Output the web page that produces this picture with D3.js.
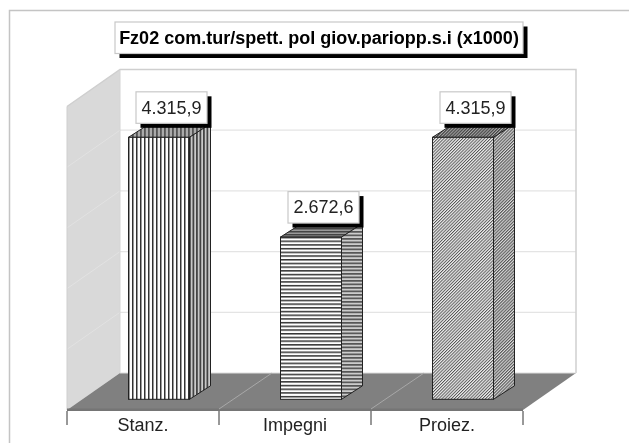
<!DOCTYPE html>
<html><head><meta charset="utf-8">
<script src="https://cdn.jsdelivr.net/npm/d3@7"></script>
<style>html,body{margin:0;padding:0;background:#fff}svg{display:block;filter:blur(0.3px)}</style>
</head><body><svg id="c" width="629" height="443"></svg>
<script>
const titleText = "Fz02 com.tur/spett. pol giov.pariopp.s.i (x1000)";
const categories = ["Stanz.", "Impegni", "Proiez."];
const values = [4315.9, 2672.6, 4315.9];
const valueLabels = ["4.315,9", "2.672,6", "4.315,9"];
const gridTicks = [0, 1000, 2000, 3000, 4000, 5000];

const font = "'Liberation Sans', Arial, sans-serif";
const svg = d3.select("#c");
const x0 = 67, x1 = 523, yFront = 410, yBackFloor = 373, yTop = 69.5, dx = 53, dy = 37;
const x = d3.scaleBand().domain(categories).range([x0, x1]).paddingInner(0).paddingOuter(0);
const y = d3.scaleLinear().domain([0, 5000]).range([yBackFloor, yTop]);
const bw = 61, bdx = 21, bdy = 13.5, barBase = 399.3, barOffset = 61.5;
const barH = d3.scaleLinear().domain([0, 5000]).range([0, yBackFloor - yTop]);

// patterns
const defs = svg.append("defs");
function pat(id, w, h, bg, draw, tr) {
  const p = defs.append("pattern").attr("id", id).attr("patternUnits", "userSpaceOnUse").attr("width", w).attr("height", h);
  if (tr) p.attr("patternTransform", tr);
  p.append("rect").attr("width", w).attr("height", h).attr("fill", bg);
  draw(p);
}
const rect = (p, a) => p.append("rect").attr("x", a[0]).attr("y", a[1]).attr("width", a[2]).attr("height", a[3]).attr("fill", a[4]);
pat("v", 4, 4, "#fff", p => rect(p, [0, 0, 1.5, 4, "#333"]));
pat("vs", 3.5, 4, "#ccc", p => rect(p, [0, 0, 1.8, 4, "#444"]));
pat("vt", 4, 4, "#aaa", p => rect(p, [0, 0, 1.8, 4, "#555"]));
pat("h", 4, 3.7, "#fff", p => rect(p, [0, 0, 4, 1.5, "#333"]));
pat("hs", 4, 3.5, "#ccc", p => rect(p, [0, 0, 4, 1.7, "#555"]));
pat("ht", 4, 3, "#999", p => rect(p, [0, 0, 4, 1.5, "#444"]));
pat("d", 2.2, 2.2, "#eee", p => rect(p, [0, 0, 0.95, 2.2, "#555"]), "rotate(45)");
pat("ds", 2.2, 2.2, "#ddd", p => rect(p, [0, 0, 1.1, 2.2, "#555"]), "rotate(45)");
pat("dt", 2.2, 2.2, "#aaa", p => rect(p, [0, 0, 1.2, 2.2, "#444"]), "rotate(45)");
const fills = [["v","vs","vt"],["h","hs","ht"],["d","ds","dt"]];

const poly = pts => pts.map(p => p.join(",")).join(" ");

// outer frame
svg.append("path").attr("d", "M9.5,443V10.5H629").attr("fill", "none").attr("stroke", "#c4c4c4").attr("stroke-width", 1.5);

// left wall
svg.append("polygon").attr("points", poly([[x0, yFront], [x0 + dx, yBackFloor], [x0 + dx, yTop], [x0, yTop + dy]])).attr("fill", "#d9d9d9");
// back wall
svg.append("rect").attr("x", x0 + dx).attr("y", yTop).attr("width", x1 + dx - x0 - dx).attr("height", yBackFloor - yTop).attr("fill", "#fff");
// grid lines
const g = svg.append("g");
gridTicks.slice(1, -1).forEach(t => {
  g.append("line").attr("x1", x0 + dx).attr("x2", x1 + dx).attr("y1", y(t)).attr("y2", y(t)).attr("stroke", "#e4e4e4").attr("stroke-width", 1.2);
  g.append("line").attr("x1", x0).attr("x2", x0 + dx).attr("y1", y(t) + dy).attr("y2", y(t)).attr("stroke", "#e2e2e2").attr("stroke-width", 1);
});
// wall borders
svg.append("path").attr("d", `M${x0},${yTop + dy}L${x0 + dx},${yTop}H${x1 + dx}V${yBackFloor}`).attr("fill", "none").attr("stroke", "#cfcfcf").attr("stroke-width", 1.5);
svg.append("line").attr("x1", x0 + dx).attr("x2", x0 + dx).attr("y1", yTop).attr("y2", yBackFloor).attr("stroke", "#d4d4d4").attr("stroke-width", 1);
svg.append("line").attr("x1", x0).attr("x2", x0).attr("y1", yTop + dy).attr("y2", yFront).attr("stroke", "#cfcfcf").attr("stroke-width", 1);

// floor
svg.append("polygon").attr("points", poly([[x0, yFront], [x1, yFront], [x1 + dx, yBackFloor], [x0 + dx, yBackFloor]])).attr("fill", "#808080");
svg.append("line").attr("x1", x0 + dx).attr("x2", x1 + dx).attr("y1", yBackFloor).attr("y2", yBackFloor).attr("stroke", "#dcdcdc").attr("stroke-width", 1);
svg.append("rect").attr("x", x0).attr("y", yFront - 1.5).attr("width", x1 - x0).attr("height", 2.5).attr("fill", "#757575");
categories.slice(1).forEach(c => {
  svg.append("line").attr("x1", x(c)).attr("x2", x(c) + dx).attr("y1", yFront - 1).attr("y2", yBackFloor).attr("stroke", "#a8a8a8").attr("stroke-width", 1);
});

// category axis
const ax = svg.append("g").attr("transform", `translate(0,${yFront + 1})`)
  .call(d3.axisBottom(x).tickSize(0).tickPadding(7));
ax.select(".domain").remove();
ax.selectAll("text").attr("font-family", font).attr("font-size", 18).attr("fill", "#222");
categories.forEach(c => ax.append("line").attr("x1", x(c)).attr("x2", x(c)).attr("y1", 0).attr("y2", 14).attr("stroke", "#333"));
ax.append("line").attr("x1", x1).attr("x2", x1).attr("y1", 0).attr("y2", 14).attr("stroke", "#333");

// bars
categories.forEach((c, i) => {
  const l = x(c) + barOffset, r = l + bw, t = barBase - barH(values[i]), b = barBase;
  const st = (s, f) => s.attr("fill", `url(#${f})`).attr("stroke", "#222").attr("stroke-width", 1);
  st(svg.append("polygon").attr("points", poly([[l, t], [r, t], [r + bdx, t - bdy], [l + bdx, t - bdy]])), fills[i][2]);
  st(svg.append("polygon").attr("points", poly([[r, t], [r + bdx, t - bdy], [r + bdx, b - bdy], [r, b]])), fills[i][1]);
  st(svg.append("rect").attr("x", l).attr("y", t).attr("width", bw).attr("height", b - t), fills[i][0]);
});

// labelled boxes
function box(cxL, top, w, h, text, size, weight, color) {
  svg.append("rect").attr("x", cxL + 4.5).attr("y", top + 4.5).attr("width", w).attr("height", h).attr("fill", "#000");
  svg.append("rect").attr("x", cxL).attr("y", top).attr("width", w).attr("height", h).attr("fill", "#fff").attr("stroke", "#c8c8c8").attr("stroke-width", 1.2);
  svg.append("text").attr("x", cxL + w / 2).attr("y", top + h / 2 - 0.5).attr("dy", "0.36em").attr("text-anchor", "middle")
    .attr("font-family", font).attr("font-size", size).attr("font-weight", weight).attr("fill", color).text(text);
}
categories.forEach((c, i) => {
  const l = x(c) + barOffset, t = barBase - barH(values[i]);
  box(l + 7.5, t - 45.5, 71, 31.5, valueLabels[i], 18, "normal", "#222");
});
box(115, 22, 408, 31.5, titleText, 18, "bold", "#000");
</script></body></html>
